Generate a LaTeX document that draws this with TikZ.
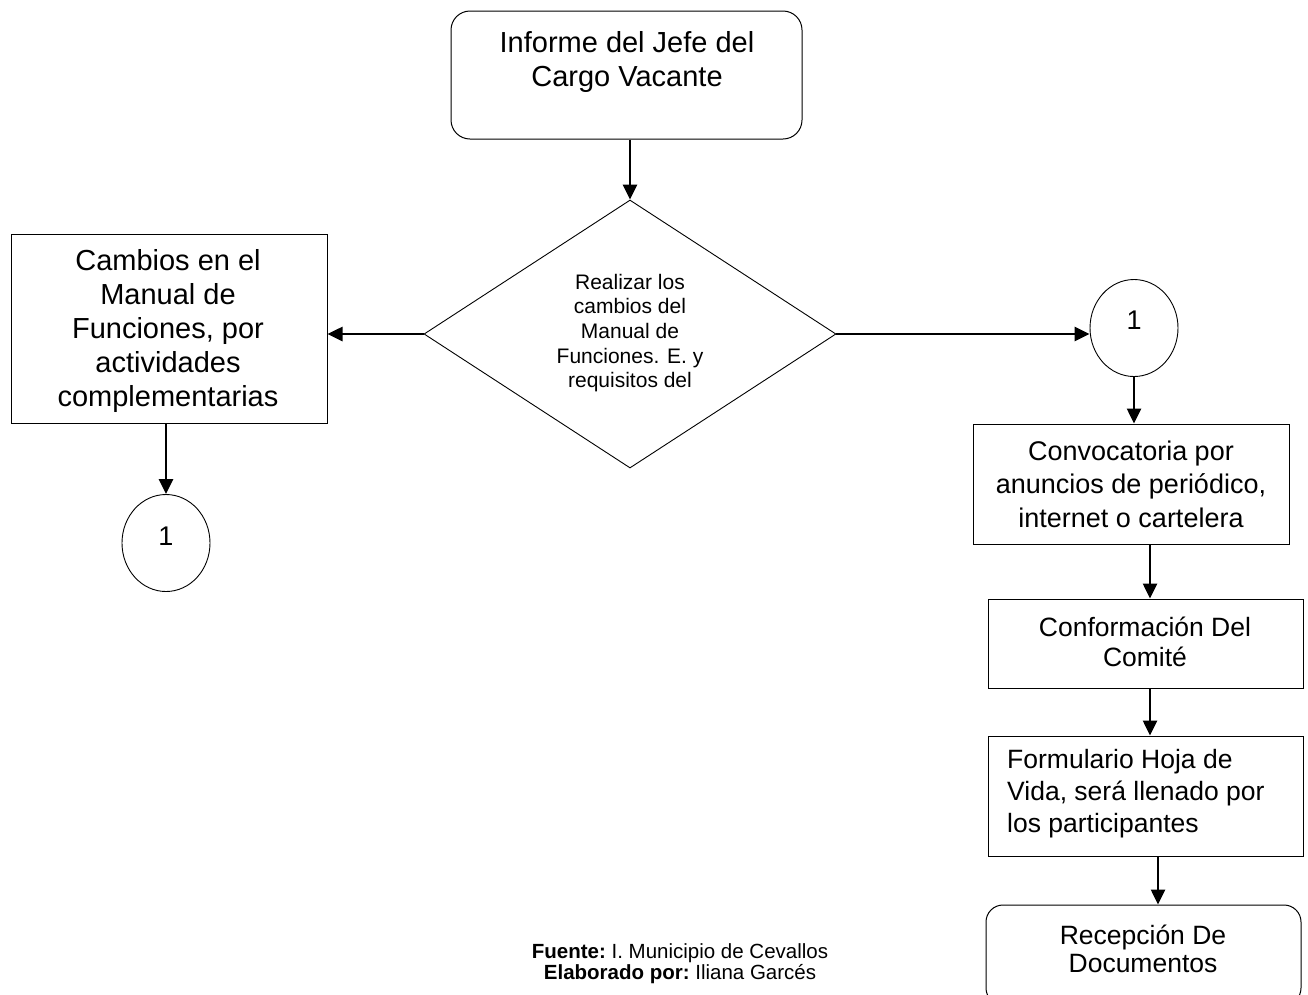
\documentclass[tikz,border=0pt]{standalone}
\usepackage{fontspec}
\setmainfont{Liberation Sans}
\usetikzlibrary{shapes.geometric,arrows.meta}

\begin{document}
\begin{tikzpicture}[x=1pt,y=-1pt,
  box/.style={draw=black,line width=1pt,inner sep=0pt,rectangle},
  rbox/.style={box,rounded corners=19pt},
  decision/.style={draw=black,line width=0.9pt,diamond,inner sep=0pt,
    minimum width=412pt,minimum height=268pt},
  connector/.style={draw=black,line width=0.9pt,ellipse,inner sep=0pt,
    minimum width=88pt,minimum height=97pt},
  flow/.style={line width=2.6pt,-{Triangle[length=15pt,width=14pt]}},
  txt/.style={inner sep=0pt,align=center},
  big/.style={font=\fontsize{29}{33.5}\selectfont},
  mid/.style={font=\fontsize{27}{33.5}\selectfont},
  small/.style={font=\fontsize{26.5}{30}\selectfont},
]
\useasboundingbox (0,0) rectangle (1308,994);
\clip (0,0) rectangle (1308,994);

% shapes
\node[rbox,minimum width=351pt,minimum height=128pt] (top) at (626.5,75) {};
\node[decision] (dia) at (630,334) {};
\node[box,minimum width=316pt,minimum height=189pt] (left) at (169,328.5) {};
\node[connector] (lc) at (166,543) {};
\node[connector] (rc) at (1134,328) {};
\node[box,minimum width=316pt,minimum height=120pt] (conv) at (1131,484) {};
\node[box,minimum width=315pt,minimum height=89pt] (conf) at (1145.5,643.5) {};
\node[box,minimum width=315pt,minimum height=120pt] (form) at (1145.5,796) {};
\node[rbox,rounded corners=17pt,minimum width=315pt,minimum height=100pt] (rec) at (1143.5,955) {};

% labels
\node[txt,big] (ttop) at (627,62) {Informe del Jefe del\\Cargo Vacante};
\node[txt,font=\fontsize{21}{24.6}\selectfont] (tdia) at (630,333)
  {Realizar los\\cambios del\\Manual de\\Funciones. E. y\\requisitos del};
\node[txt,font=\fontsize{29}{33.8}\selectfont] (tleft) at (168,331)
  {Cambios en el\\Manual de\\Funciones, por\\actividades\\complementarias};
\node[txt,font=\fontsize{27}{30}\selectfont] (tlc) at (166,536) {1};
\node[txt,font=\fontsize{27}{30}\selectfont] (trc) at (1134,320) {1};
\node[txt,mid] (tconv) at (1131,484)
  {Convocatoria por\\anuncios de periódico,\\internet o cartelera};
\node[txt,small] (tconf) at (1145,642) {Conformación Del\\Comité};
\node[txt,align=left,anchor=west,font=\fontsize{26.5}{32}\selectfont] (tform) at (1007,794)
  {Formulario Hoja de\\Vida, será llenado por\\los participantes};
\node[txt,font=\fontsize{26.5}{28}\selectfont] (trec) at (1143,949) {Recepción De\\Documentos};
\node[txt,font=\fontsize{20.5}{21}\selectfont] (foot) at (680,964)
  {\textbf{Fuente:}~I. Municipio de Cevallos\\\textbf{Elaborado por:}~Iliana Garcés};

% connectors
\draw[flow] (dia.north |- top.south) -- (dia.north);
\draw[flow] (dia.west) -- (dia.west -| left.east);
\draw[flow] (lc.north |- left.south) -- (lc.north);
\draw[flow] (dia.east) -- (dia.east -| rc.west);
\draw[flow] (rc.south) -- (rc.south |- conv.north);
\draw[flow] ([xshift=4.5pt]conf.north |- conv.south) -- ([xshift=4.5pt]conf.north);
\draw[flow] ([xshift=4.5pt]conf.south) -- ([xshift=4.5pt]conf.south |- form.north);
\draw[flow] ([xshift=12.5pt]form.south) -- ([xshift=12.5pt]form.south |- rec.north);
\end{tikzpicture}
\end{document}
